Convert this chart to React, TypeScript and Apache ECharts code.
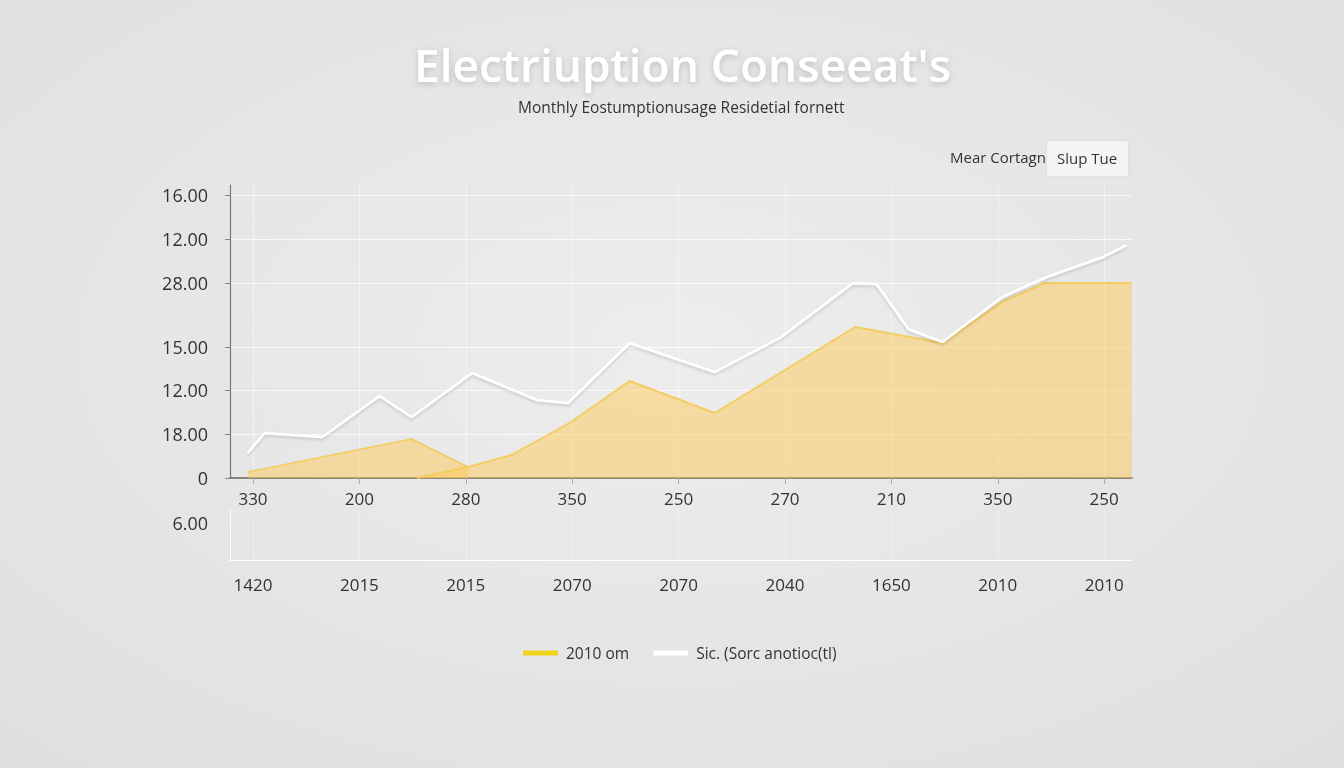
import React, { useEffect, useRef } from "react";
import * as echarts from "echarts";

// ---- tick labels ----
const yTickValues = [0, 4.4, 8.8, 13.1, 19.5, 23.9, 28.3];
const yTickLabels = ["0", "18.00", "12.00", "15.00", "28.00", "12.00", "16.00"];
const xTickValues = [0, 1, 2, 3, 4, 5, 6, 7, 8];
const xTopLabels = ["330", "200", "280", "350", "250", "270", "210", "350", "250"];
const xBottomLabels = ["1420", "2015", "2015", "2070", "2070", "2040", "1650", "2010", "2010"];
const lowerYTickValues = [6];
const lowerYTickLabels = ["6.00"];

// ---- series values ----
const whiteName = "Sic. (Sorc anotioc(tl)";
const yellowName = "2010 om";
const whiteX = [-0.05, 0.11, 0.65, 1.19, 1.49, 2.06, 2.67, 2.96, 3.54, 4.34, 4.95, 5.64, 5.86, 6.16, 6.48, 7.04, 7.46, 7.99, 8.21];
const whiteY = [2.5, 4.5, 4.1, 8.2, 6.1, 10.5, 7.8, 7.5, 13.5, 10.6, 14.0, 19.5, 19.4, 14.9, 13.6, 18.1, 20.1, 22.1, 23.3];
const yellowAX = [-0.05, 1.49, 2.02];
const yellowAY = [0.6, 3.9, 1.1];
const yellowBX = [1.54, 2.02, 2.43, 2.99, 3.54, 4.34, 5.66, 6.48, 7.04, 7.44, 8.26];
const yellowBY = [0, 1.1, 2.3, 5.6, 9.7, 6.5, 15.1, 13.5, 17.6, 19.5, 19.5];

const FONT = "'Open Sans', 'Noto Sans', sans-serif";

const pairs = (xs: number[], ys: number[]) => xs.map((x, i) => [x, ys[i]]);
const labelFor = (vals: number[], labels: string[]) => (v: number) => {
  const i = vals.findIndex((t) => Math.abs(t - v) < 1e-6);
  return i >= 0 ? labels[i] : "";
};

export default function App() {
  const ref = useRef<HTMLDivElement>(null);

  useEffect(() => {
    if (!ref.current) return;
    const chart = echarts.init(ref.current, null, { renderer: "svg" });
    const xMin = (230 - 253) / 106.4;
    const xMax = (1132 - 253) / 106.4;

    const option: any = {
      animation: false,
      backgroundColor: {
        type: "radial",
        x: 0.5,
        y: 0.45,
        r: 0.75,
        colorStops: [
          { offset: 0, color: "#ededed" },
          { offset: 1, color: "#dfdfdf" },
        ],
      },
      textStyle: { fontFamily: FONT },
      title: [
        {
          text: "Electriuption Conseeat's",
          left: 409,
          top: 31,
          textStyle: {
            color: "#ffffff",
            fontSize: 46,
            fontWeight: 600,
            fontFamily: FONT,
            lineHeight: 56,
            textShadowColor: "rgba(0,0,0,0.18)",
            textShadowBlur: 6,
            textShadowOffsetY: 2,
          },
        },
        {
          text: "Monthly Eostumptionusage Residetial fornett",
          left: 513,
          top: 93,
          textStyle: {
            color: "#333333",
            fontSize: 15.5,
            fontWeight: "normal",
            fontFamily: FONT,
            lineHeight: 18,
          },
        },
      ],
      legend: {
        left: 518,
        top: 640,
        icon: "rect",
        itemWidth: 35,
        itemHeight: 5,
        itemGap: 24,
        textStyle: { color: "#333", fontSize: 15.5, fontFamily: FONT, padding: [0, 0, 0, 3] },
        data: [
          { name: yellowName, itemStyle: { color: "#f2d21a" } },
          { name: whiteName, itemStyle: { color: "#ffffff" } },
        ],
      },
      graphic: [
        {
          type: "text",
          left: 950,
          top: 149,
          style: { text: "Mear Cortagn", fill: "#333", fontSize: 15, fontFamily: FONT },
        },
        {
          type: "rect",
          shape: { x: 1047, y: 141, width: 81, height: 35, r: 3 },
          style: { fill: "#f4f4f4", shadowColor: "rgba(0,0,0,0.05)", shadowBlur: 3 },
        },
        {
          type: "text",
          x: 1087,
          y: 158,
          style: {
            text: "Slup Tue",
            fill: "#333",
            fontSize: 15,
            fontFamily: FONT,
            align: "center",
            verticalAlign: "middle",
          },
        },
      ],
      grid: [
        { left: 230, right: 1344 - 1132, top: 185, height: 293 },
        { left: 230, right: 1344 - 1132, top: 510, height: 50 },
      ],
      xAxis: [
        {
          gridIndex: 0,
          type: "value",
          min: xMin,
          max: xMax,
          axisLine: { show: true, onZero: false, lineStyle: { color: "#6b6253", width: 1.5 } },
          axisTick: { show: true, length: 6, customValues: xTickValues, lineStyle: { color: "#aaaaaa" } },
          axisLabel: {
            customValues: xTickValues,
            formatter: labelFor(xTickValues, xTopLabels),
            color: "#333",
            fontSize: 17,
            margin: 12,
            fontFamily: FONT,
          },
          splitLine: { show: true, lineStyle: { color: "rgba(255,255,255,0.45)", width: 1 } },
        },
        {
          gridIndex: 1,
          type: "value",
          min: xMin,
          max: xMax,
          axisLine: { show: true, onZero: false, lineStyle: { color: "rgba(255,255,255,0.9)", width: 1 } },
          axisTick: { show: false, customValues: xTickValues },
          axisLabel: {
            customValues: xTickValues,
            formatter: labelFor(xTickValues, xBottomLabels),
            color: "#333",
            fontSize: 17,
            margin: 16,
            fontFamily: FONT,
          },
          splitLine: { show: true, lineStyle: { color: "rgba(255,255,255,0.3)", width: 1 } },
        },
      ],
      yAxis: [
        {
          gridIndex: 0,
          type: "value",
          min: 0,
          max: 29.3,
          axisLine: { show: true, onZero: false, lineStyle: { color: "#7a7a7a", width: 1.2 } },
          axisTick: { show: true, length: 5, customValues: yTickValues, lineStyle: { color: "#888" } },
          axisLabel: {
            customValues: yTickValues,
            formatter: labelFor(yTickValues, yTickLabels),
            color: "#333",
            fontSize: 18,
            margin: 22,
            fontFamily: FONT,
          },
          splitLine: { show: true, lineStyle: { color: "rgba(255,255,255,0.75)", width: 1 } },
        },
        {
          gridIndex: 1,
          type: "value",
          min: 0,
          max: 8,
          axisLine: { show: true, onZero: false, lineStyle: { color: "rgba(255,255,255,0.9)", width: 1 } },
          axisTick: { show: false, customValues: lowerYTickValues },
          axisLabel: {
            customValues: lowerYTickValues,
            formatter: labelFor(lowerYTickValues, lowerYTickLabels),
            color: "#333",
            fontSize: 18,
            margin: 22,
            fontFamily: FONT,
          },
          splitLine: { show: false },
        },
      ],
      series: [
        {
          name: yellowName,
          type: "line",
          xAxisIndex: 0,
          yAxisIndex: 0,
          data: pairs(yellowAX, yellowAY),
          showSymbol: false,
          symbol: "none",
          lineStyle: { color: "#f3cc5c", width: 1.5 },
          itemStyle: { color: "#f2d21a" },
          areaStyle: { color: "rgba(255,200,80,0.68)" },
          z: 2,
        },
        {
          name: yellowName,
          type: "line",
          xAxisIndex: 0,
          yAxisIndex: 0,
          data: pairs(yellowBX, yellowBY),
          showSymbol: false,
          symbol: "none",
          lineStyle: { color: "#f3cd62", width: 2 },
          itemStyle: { color: "#f2d21a" },
          areaStyle: { color: "rgba(255,200,80,0.68)" },
          z: 2,
        },
        {
          name: whiteName,
          type: "line",
          xAxisIndex: 0,
          yAxisIndex: 0,
          data: pairs(whiteX, whiteY),
          showSymbol: false,
          symbol: "none",
          lineStyle: {
            color: "#ffffff",
            width: 2.5,
            shadowColor: "rgba(0,0,0,0.15)",
            shadowBlur: 3,
            shadowOffsetY: 2,
          },
          itemStyle: { color: "#ffffff" },
          z: 3,
        },
      ],
    };

    chart.setOption(option);
    return () => chart.dispose();
  }, []);

  return (
    <div
      ref={ref}
      style={{ position: "fixed", left: 0, top: 0, width: 1344, height: 768 }}
    />
  );
}
